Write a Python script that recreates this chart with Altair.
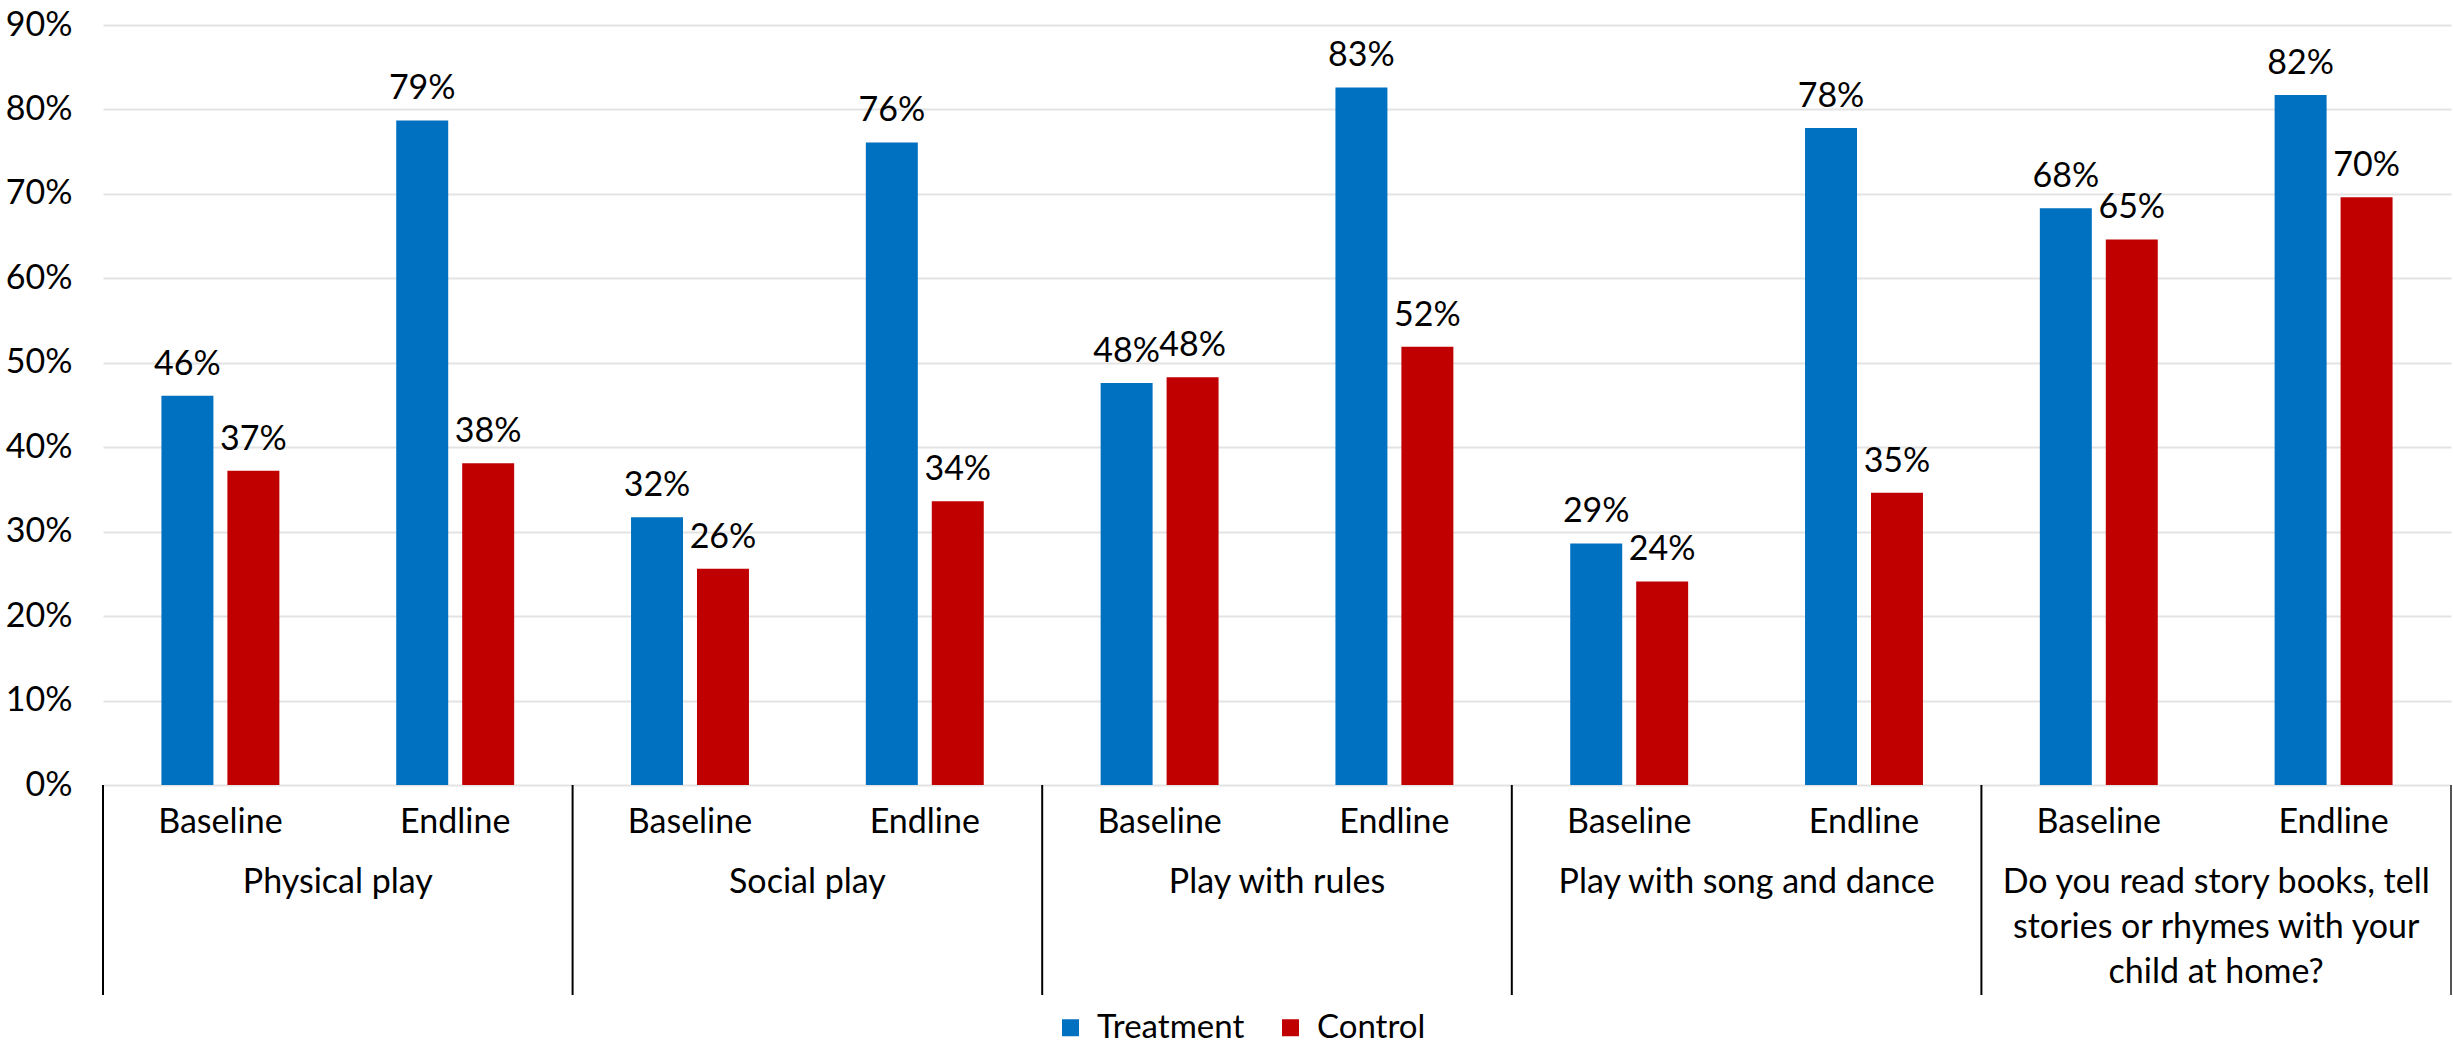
import altair as alt
import pandas as pd

# Categories
groups = [
    "Physical play",
    "Social play",
    "Play with rules",
    "Play with song and dance",
    "Do you read story books, tell stories or rhymes with your child at home?",
]
group_labels = [
    "Physical play",
    "Social play",
    "Play with rules",
    "Play with song and dance",
    "Do you read story books, tell\nstories or rhymes with your\nchild at home?",
]
phases = ["Baseline", "Endline"]
series = ["Treatment", "Control"]
colors = ["#0070C0", "#C00000"]

# Percent of respondents
treatment_baseline = [46.1, 31.7, 47.6, 28.6, 68.3]
control_baseline = [37.2, 25.6, 48.3, 24.1, 64.6]
treatment_endline = [78.7, 76.1, 82.6, 77.8, 81.7]
control_endline = [38.1, 33.6, 51.9, 34.6, 69.6]

y_ticks = [i / 10 for i in range(10)]

FONT = "Lato"
FS = 34

bar_rows, slot_rows, group_rows = [], [], []
slot_order = []
for i, g in enumerate(groups):
    for phase, t_vals, c_vals in (
        ("Baseline", treatment_baseline, control_baseline),
        ("Endline", treatment_endline, control_endline),
    ):
        slot = f"{g} | {phase}"
        slot_order.append(slot)
        slot_rows.append({"slot": slot, "phase": phase})
        bar_rows.append({"slot": slot, "series": "Treatment", "value": t_vals[i] / 100})
        bar_rows.append({"slot": slot, "series": "Control", "value": c_vals[i] / 100})
    group_rows.append({"slot": f"{g} | Baseline", "label": group_labels[i]})

bars_df = pd.DataFrame(bar_rows)
slots_df = pd.DataFrame(slot_rows)
groups_df = pd.DataFrame(group_rows)
last_df = pd.DataFrame([{"slot": slot_order[-1]}])

x_scale = alt.Scale(domain=slot_order, paddingInner=0, paddingOuter=0)
x_enc = alt.X(
    "slot:N",
    scale=x_scale,
    axis=alt.Axis(labels=False, ticks=False, title=None, domain=True,
                  domainColor="black", domainWidth=2, grid=False),
)
x_off = alt.XOffset(
    "series:N",
    scale=alt.Scale(domain=series, paddingInner=0.212, paddingOuter=0.886),
)
y_enc = alt.Y(
    "value:Q",
    scale=alt.Scale(domain=[0, 0.9], nice=False),
    axis=alt.Axis(
        values=y_ticks, format=".0%", title=None, domain=False, ticks=False,
        labelPadding=31, labelFont=FONT, labelFontSize=FS, labelColor="black",
        gridColor="#e3e3e3", gridWidth=2,
    ),
)

bars = alt.Chart(bars_df).mark_bar().encode(
    x=x_enc,
    xOffset=x_off,
    y=y_enc,
    color=alt.Color(
        "series:N",
        scale=alt.Scale(domain=series, range=colors),
        legend=alt.Legend(
            orient="none", legendX=951, legendY=986, direction="horizontal",
            title=None, symbolType="square", symbolSize=289, symbolStrokeWidth=0,
            labelFont=FONT, labelFontSize=33, labelColor="black",
            labelOffset=10, columnPadding=29, padding=0,
        ),
    ),
)

values = alt.Chart(bars_df).mark_text(
    baseline="alphabetic", dy=-21, font=FONT, fontSize=FS, color="black"
).encode(
    x=alt.X("slot:N", scale=x_scale, axis=None),
    xOffset=x_off,
    y=alt.Y("value:Q"),
    text=alt.Text("value:Q", format=".0%"),
)

phase_labels = alt.Chart(slots_df).mark_text(
    baseline="alphabetic", font=FONT, fontSize=FS, color="black"
).encode(
    x=alt.X("slot:N", scale=x_scale, axis=None),
    y=alt.value(808),
    text="phase:N",
)

group_text = alt.Chart(groups_df).mark_text(
    baseline="top", font=FONT, fontSize=FS, color="black",
    lineBreak="\n", lineHeight=45,
).encode(
    x=alt.X("slot:N", scale=x_scale, axis=None, bandPosition=1),
    y=alt.value(841),
    text="label:N",
)

dividers = alt.Chart(groups_df).mark_rule(color="black", strokeWidth=2).encode(
    x=alt.X("slot:N", scale=x_scale, axis=None, bandPosition=0),
    y=alt.value(760),
    y2=alt.value(970),
)

right_edge = alt.Chart(last_df).mark_rule(color="#555555", strokeWidth=2).encode(
    x=alt.X("slot:N", scale=x_scale, axis=None, bandPosition=1),
    y=alt.value(760),
    y2=alt.value(970),
)

chart = (
    alt.layer(bars, values, phase_labels, group_text, dividers, right_edge)
    .properties(
        width=2348,
        height=760,
        autosize=alt.AutoSizeParams(type="none"),
        padding={"left": 103, "top": 25, "right": 2, "bottom": 263},
        background="white",
    )
    .configure_view(stroke=None)
)

chart.save("out.html", embed_options={"renderer": "svg", "actions": False})
